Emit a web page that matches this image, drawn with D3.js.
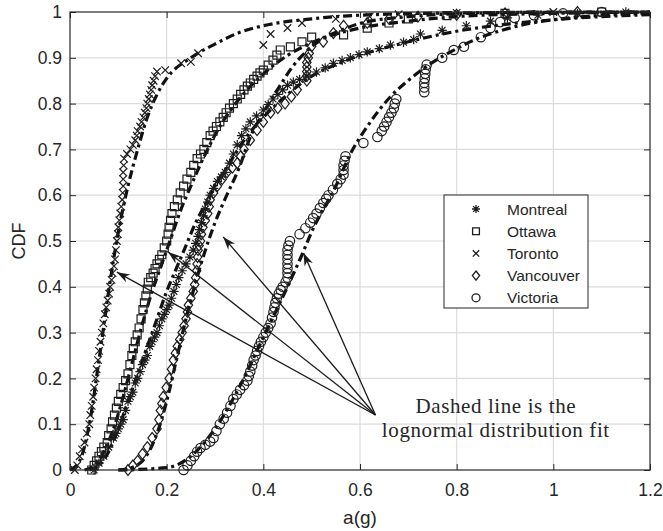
<!DOCTYPE html>
<html>
<head>
<meta charset="utf-8">
<script src="https://cdn.jsdelivr.net/npm/d3@7"></script>
<style>
body { margin: 0; background: #fff; }
text { font-family: "Liberation Sans", Arial, sans-serif; fill: #262626; }
</style>
</head>
<body>
<div class="canvas"></div>
<script>
// tick labels
var xTicks = [0, 0.2, 0.4, 0.6, 0.8, 1, 1.2];
var yTicks = [0, 0.1, 0.2, 0.3, 0.4, 0.5, 0.6, 0.7, 0.8, 0.9, 1];
var cities = ["Montreal", "Ottawa", "Toronto", "Vancouver", "Victoria"];

var montrealPts = [[0.05,0],[0.06,0.015],[0.07,0.03],[0.08,0.05],[0.09,0.07],[0.095,0.08],[0.1,0.09],[0.105,0.1],[0.11,0.11],[0.115,0.13],[0.12,0.15],[0.125,0.16],[0.13,0.17],[0.135,0.19],[0.14,0.2],[0.145,0.215],[0.15,0.23],[0.155,0.24],[0.16,0.25],[0.165,0.27],[0.17,0.28],[0.175,0.29],[0.18,0.3],[0.185,0.315],[0.19,0.33],[0.195,0.34],[0.2,0.35],[0.205,0.36],[0.21,0.375],[0.215,0.39],[0.22,0.405],[0.225,0.42],[0.232,0.435],[0.24,0.45],[0.248,0.465],[0.255,0.48],[0.26,0.495],[0.265,0.51],[0.268,0.525],[0.272,0.54],[0.276,0.555],[0.28,0.57],[0.285,0.585],[0.29,0.6],[0.297,0.615],[0.305,0.63],[0.313,0.64],[0.321,0.65],[0.33,0.67],[0.338,0.69],[0.346,0.71],[0.355,0.73],[0.364,0.745],[0.373,0.76],[0.386,0.773],[0.4,0.786],[0.41,0.798],[0.42,0.81],[0.43,0.82],[0.44,0.83],[0.45,0.84],[0.462,0.847],[0.475,0.853],[0.49,0.86],[0.51,0.869],[0.528,0.878],[0.545,0.888],[0.563,0.894],[0.58,0.9],[0.598,0.907],[0.615,0.913],[0.64,0.92],[0.663,0.928],[0.69,0.934],[0.711,0.94],[0.725,0.952],[0.77,0.96],[0.82,0.97],[0.87,0.98],[0.905,0.987],[0.968,0.993],[1.05,0.997],[1.15,1]];
var ottawaPts = [[0.045,0],[0.05,0.01],[0.055,0.02],[0.06,0.03],[0.065,0.04],[0.07,0.05],[0.077,0.06],[0.08,0.075],[0.085,0.09],[0.088,0.105],[0.092,0.12],[0.096,0.135],[0.1,0.15],[0.105,0.165],[0.11,0.18],[0.115,0.195],[0.12,0.21],[0.124,0.23],[0.128,0.25],[0.131,0.265],[0.135,0.28],[0.139,0.295],[0.143,0.31],[0.147,0.33],[0.151,0.35],[0.154,0.365],[0.157,0.38],[0.16,0.395],[0.162,0.41],[0.167,0.42],[0.172,0.43],[0.176,0.44],[0.18,0.45],[0.185,0.46],[0.19,0.47],[0.195,0.485],[0.2,0.5],[0.203,0.515],[0.205,0.53],[0.208,0.545],[0.211,0.56],[0.216,0.575],[0.222,0.59],[0.228,0.605],[0.235,0.62],[0.242,0.635],[0.25,0.65],[0.256,0.665],[0.263,0.68],[0.27,0.69],[0.277,0.7],[0.283,0.715],[0.29,0.73],[0.296,0.74],[0.303,0.75],[0.31,0.76],[0.317,0.77],[0.323,0.78],[0.33,0.79],[0.338,0.8],[0.346,0.81],[0.353,0.82],[0.36,0.83],[0.367,0.838],[0.373,0.845],[0.38,0.853],[0.387,0.86],[0.393,0.867],[0.4,0.873],[0.41,0.884],[0.42,0.895],[0.428,0.906],[0.435,0.917],[0.456,0.924],[0.48,0.935],[0.5,0.945],[0.566,0.95],[0.615,0.965],[0.66,0.976],[0.7,0.985],[0.78,0.992],[0.9,0.997],[1.1,1]];
var torontoPts = [[0.01,0],[0.015,0.01],[0.02,0.03],[0.025,0.045],[0.03,0.06],[0.035,0.08],[0.04,0.1],[0.042,0.12],[0.045,0.14],[0.048,0.16],[0.05,0.18],[0.053,0.2],[0.055,0.22],[0.058,0.24],[0.06,0.26],[0.063,0.28],[0.066,0.3],[0.069,0.32],[0.072,0.34],[0.075,0.355],[0.078,0.37],[0.081,0.385],[0.083,0.4],[0.086,0.415],[0.088,0.43],[0.091,0.445],[0.093,0.46],[0.095,0.48],[0.097,0.5],[0.099,0.515],[0.1,0.53],[0.102,0.545],[0.104,0.56],[0.106,0.575],[0.108,0.59],[0.109,0.605],[0.11,0.62],[0.11,0.635],[0.11,0.65],[0.111,0.665],[0.112,0.68],[0.118,0.69],[0.125,0.7],[0.13,0.71],[0.135,0.72],[0.138,0.73],[0.14,0.74],[0.145,0.75],[0.148,0.76],[0.152,0.77],[0.155,0.78],[0.158,0.79],[0.16,0.8],[0.163,0.81],[0.165,0.82],[0.168,0.83],[0.17,0.84],[0.173,0.85],[0.176,0.86],[0.18,0.87],[0.197,0.873],[0.23,0.888],[0.25,0.891],[0.265,0.91],[0.4,0.928],[0.415,0.952],[0.45,0.965],[0.48,0.976],[0.55,0.985],[0.62,0.99],[0.68,0.995],[0.8,0.998],[1,1]];
var vancouverPts = [[0.12,0],[0.13,0.01],[0.14,0.02],[0.15,0.035],[0.16,0.05],[0.17,0.07],[0.18,0.09],[0.184,0.11],[0.187,0.13],[0.19,0.145],[0.193,0.16],[0.199,0.18],[0.205,0.2],[0.21,0.22],[0.214,0.24],[0.218,0.255],[0.222,0.27],[0.227,0.285],[0.232,0.3],[0.236,0.315],[0.24,0.33],[0.243,0.345],[0.245,0.36],[0.25,0.375],[0.255,0.39],[0.258,0.405],[0.26,0.42],[0.262,0.435],[0.263,0.45],[0.264,0.465],[0.265,0.48],[0.267,0.49],[0.27,0.5],[0.272,0.515],[0.275,0.53],[0.28,0.545],[0.285,0.56],[0.288,0.575],[0.29,0.59],[0.297,0.605],[0.305,0.62],[0.315,0.635],[0.325,0.65],[0.336,0.66],[0.346,0.67],[0.353,0.685],[0.36,0.7],[0.373,0.72],[0.387,0.742],[0.4,0.76],[0.415,0.78],[0.43,0.79],[0.445,0.8],[0.458,0.815],[0.47,0.83],[0.49,0.85],[0.49,0.86],[0.49,0.87],[0.49,0.88],[0.49,0.89],[0.493,0.9],[0.495,0.91],[0.5,0.925],[0.524,0.935],[0.545,0.954],[0.566,0.97],[0.615,0.976],[0.66,0.985],[0.72,0.99],[0.8,0.994],[0.9,0.997],[1.05,1]];
var victoriaPts = [[0.235,0],[0.243,0.01],[0.25,0.02],[0.257,0.03],[0.263,0.04],[0.27,0.048],[0.28,0.055],[0.29,0.062],[0.297,0.07],[0.303,0.085],[0.31,0.1],[0.318,0.112],[0.325,0.125],[0.332,0.14],[0.338,0.155],[0.345,0.165],[0.352,0.175],[0.36,0.185],[0.367,0.195],[0.37,0.205],[0.373,0.215],[0.377,0.228],[0.38,0.24],[0.384,0.25],[0.387,0.26],[0.391,0.27],[0.395,0.28],[0.4,0.29],[0.405,0.3],[0.41,0.31],[0.415,0.32],[0.418,0.333],[0.421,0.345],[0.423,0.355],[0.425,0.365],[0.428,0.375],[0.432,0.385],[0.436,0.393],[0.44,0.4],[0.446,0.41],[0.45,0.42],[0.45,0.43],[0.45,0.44],[0.45,0.45],[0.45,0.46],[0.45,0.47],[0.45,0.48],[0.452,0.49],[0.455,0.5],[0.475,0.515],[0.487,0.528],[0.497,0.54],[0.503,0.55],[0.51,0.56],[0.517,0.572],[0.524,0.583],[0.53,0.592],[0.535,0.6],[0.544,0.612],[0.553,0.625],[0.56,0.635],[0.566,0.645],[0.566,0.655],[0.566,0.665],[0.568,0.675],[0.57,0.685],[0.607,0.714],[0.636,0.727],[0.645,0.74],[0.65,0.75],[0.655,0.76],[0.66,0.77],[0.665,0.78],[0.67,0.79],[0.672,0.8],[0.675,0.81],[0.733,0.825],[0.733,0.835],[0.733,0.845],[0.734,0.855],[0.735,0.865],[0.736,0.875],[0.738,0.885],[0.77,0.9],[0.794,0.917],[0.815,0.924],[0.85,0.945],[0.87,0.965],[0.89,0.978],[0.92,0.987],[0.96,0.993],[1.02,0.997],[1.1,1]];

// lognormal fit curves (dash-dot)
var montrealFit = [[0.04,0],[0.06,0.01],[0.08,0.04],[0.1,0.09],[0.12,0.15],[0.14,0.21],[0.16,0.27],[0.18,0.33],[0.2,0.39],[0.22,0.44],[0.24,0.49],[0.26,0.54],[0.28,0.58],[0.3,0.62],[0.33,0.67],[0.36,0.72],[0.4,0.77],[0.45,0.82],[0.5,0.86],[0.55,0.885],[0.6,0.905],[0.7,0.935],[0.8,0.958],[0.9,0.973],[1,0.983],[1.1,0.99],[1.2,0.994]];
var ottawaFit = [[0.03,0],[0.05,0.01],[0.07,0.04],[0.09,0.09],[0.11,0.16],[0.13,0.24],[0.15,0.32],[0.17,0.39],[0.19,0.45],[0.21,0.51],[0.23,0.57],[0.25,0.62],[0.28,0.69],[0.31,0.75],[0.35,0.81],[0.4,0.865],[0.45,0.905],[0.5,0.933],[0.6,0.965],[0.7,0.98],[0.8,0.99],[1,0.997],[1.2,1]];
var torontoFit = [[0,0],[0.02,0.02],[0.04,0.1],[0.06,0.24],[0.08,0.39],[0.1,0.52],[0.12,0.62],[0.14,0.7],[0.16,0.77],[0.18,0.82],[0.2,0.855],[0.25,0.9],[0.3,0.93],[0.35,0.955],[0.4,0.97],[0.5,0.985],[0.6,0.993],[0.8,0.998],[1.2,1]];
var vancouverFit = [[0.1,0],[0.12,0.003],[0.15,0.02],[0.18,0.08],[0.2,0.15],[0.22,0.24],[0.24,0.33],[0.26,0.41],[0.28,0.48],[0.3,0.54],[0.32,0.59],[0.35,0.66],[0.373,0.727],[0.4,0.78],[0.435,0.84],[0.46,0.88],[0.49,0.915],[0.52,0.94],[0.56,0.96],[0.6,0.975],[0.7,0.99],[0.8,0.996],[1,1],[1.2,1]];
var victoriaFit = [[0.1,0],[0.2,0.005],[0.25,0.03],[0.3,0.09],[0.35,0.18],[0.4,0.29],[0.45,0.4],[0.48,0.47],[0.5,0.52],[0.55,0.62],[0.58,0.69],[0.615,0.75],[0.663,0.815],[0.705,0.855],[0.75,0.89],[0.8,0.92],[0.85,0.945],[0.9,0.962],[0.95,0.975],[1,0.983],[1.1,0.993],[1.2,0.997]];

// annotation: arrow tips and common tail, in data units
var arrowTips = [[0.097,0.432],[0.203,0.476],[0.317,0.509],[0.483,0.474]];
var arrowTail = [0.632,0.12];
var noteLines = ["Dashed line is the", "lognormal distribution fit"];

var W = 663, H = 531;
var margin = {left: 70, right: 13, top: 12, bottom: 61};

var svg = d3.select(".canvas").append("svg").attr("width", W).attr("height", H);

var x = d3.scaleLinear().domain([0, 1.2]).range([margin.left, W - margin.right]);
var y = d3.scaleLinear().domain([0, 1]).range([H - margin.bottom, margin.top]);

// grid
svg.append("g").selectAll("line").data(xTicks.slice(1, -1)).enter().append("line")
  .attr("x1", function(d) { return x(d); }).attr("x2", function(d) { return x(d); })
  .attr("y1", y(0)).attr("y2", y(1))
  .attr("stroke", "#dcdcdc").attr("stroke-width", 1.2);
svg.append("g").selectAll("line").data(yTicks.slice(1, -1)).enter().append("line")
  .attr("y1", function(d) { return y(d); }).attr("y2", function(d) { return y(d); })
  .attr("x1", x(0)).attr("x2", x(1.2))
  .attr("stroke", "#dcdcdc").attr("stroke-width", 1.2);

// fit lines
var line = d3.line().x(function(d) { return x(d[0]); }).y(function(d) { return y(d[1]); })
  .curve(d3.curveMonotoneX);
var fits = [montrealFit, ottawaFit, torontoFit, vancouverFit, victoriaFit];
svg.append("g").selectAll("path").data(fits).enter().append("path")
  .attr("d", line)
  .attr("fill", "none").attr("stroke", "#111").attr("stroke-width", 3.2)
  .attr("stroke-dasharray", "9,4,3,4");

// marker shapes
function markerPath(type, s) {
  var p = d3.path();
  if (type == "Montreal") {
    p.moveTo(-s, 0); p.lineTo(s, 0); p.moveTo(0, -s); p.lineTo(0, s);
    var k = s * 0.72;
    p.moveTo(-k, -k); p.lineTo(k, k); p.moveTo(-k, k); p.lineTo(k, -k);
  } else if (type == "Ottawa") {
    p.rect(-s * 0.85, -s * 0.85, s * 1.7, s * 1.7);
  } else if (type == "Toronto") {
    var t = s * 0.8;
    p.moveTo(-t, -t); p.lineTo(t, t); p.moveTo(-t, t); p.lineTo(t, -t);
  } else if (type == "Vancouver") {
    p.moveTo(0, -s * 1.15); p.lineTo(s * 0.9, 0); p.lineTo(0, s * 1.15); p.lineTo(-s * 0.9, 0); p.closePath();
  } else {
    p.arc(0, 0, s, 0, 2 * Math.PI);
  }
  return p.toString();
}

var seriesPts = [montrealPts, ottawaPts, torontoPts, vancouverPts, victoriaPts];
seriesPts.forEach(function(pts, i) {
  svg.append("g").selectAll("path").data(pts).enter().append("path")
    .attr("transform", function(d) { return "translate(" + x(d[0]) + "," + y(d[1]) + ")"; })
    .attr("d", markerPath(cities[i], 4.7))
    .attr("fill", "none").attr("stroke", "#1e1e1e").attr("stroke-width", 1.2);
});

// frame and inward ticks on all four sides
svg.append("rect").attr("x", x(0)).attr("y", y(1))
  .attr("width", x(1.2) - x(0)).attr("height", y(0) - y(1))
  .attr("fill", "none").attr("stroke", "#262626").attr("stroke-width", 1.2);

svg.append("g").attr("transform", "translate(0," + y(0) + ")")
  .call(d3.axisBottom(x).tickValues(xTicks).tickSize(-6).tickPadding(14).tickFormat(d3.format("")))
  .call(function(g) { g.select(".domain").remove(); });
svg.append("g").attr("transform", "translate(0," + y(1) + ")")
  .call(d3.axisTop(x).tickValues(xTicks).tickSize(-6).tickFormat(""))
  .call(function(g) { g.select(".domain").remove(); });
svg.append("g").attr("transform", "translate(" + x(0) + ",0)")
  .call(d3.axisLeft(y).tickValues(yTicks).tickSize(-6).tickPadding(8).tickFormat(d3.format("")))
  .call(function(g) { g.select(".domain").remove(); });
svg.append("g").attr("transform", "translate(" + x(1.2) + ",0)")
  .call(d3.axisRight(y).tickValues(yTicks).tickSize(-6).tickFormat(""))
  .call(function(g) { g.select(".domain").remove(); });
svg.selectAll(".tick line").attr("stroke", "#262626");
svg.selectAll(".tick text").attr("font-family", "Liberation Sans, Arial, sans-serif")
  .attr("font-size", 17.5).attr("fill", "#262626");

// axis titles
svg.append("text").attr("x", (x(0) + x(1.2)) / 2).attr("y", 524)
  .attr("text-anchor", "middle").attr("font-size", 19).text("a(g)");
svg.append("text").attr("transform", "translate(25," + ((y(0) + y(1)) / 2) + ") rotate(-90)")
  .attr("text-anchor", "middle").attr("font-size", 18).text("CDF");

// legend
var lg = svg.append("g").attr("transform", "translate(444,195)");
lg.append("rect").attr("width", 144).attr("height", 113)
  .attr("fill", "#fff").attr("stroke", "#262626").attr("stroke-width", 1);
cities.forEach(function(c, i) {
  var yy = 14 + i * 22.2;
  lg.append("path").attr("transform", "translate(32," + yy + ")")
    .attr("d", markerPath(c, 4))
    .attr("fill", "none").attr("stroke", "#1e1e1e").attr("stroke-width", 1.3);
  lg.append("text").attr("x", 63).attr("y", yy + 5.5).attr("font-size", 15.5).text(c);
});

// arrows
var ag = svg.append("g");
arrowTips.forEach(function(t) {
  var x1 = x(arrowTail[0]), y1 = y(arrowTail[1]), x2 = x(t[0]), y2 = y(t[1]);
  var ang = Math.atan2(y2 - y1, x2 - x1);
  ag.append("line").attr("x1", x1).attr("y1", y1).attr("x2", x2).attr("y2", y2)
    .attr("stroke", "#1a1a1a").attr("stroke-width", 1.3);
  var L = 13, Wd = 4.5, N = 9;
  var c = Math.cos(ang), s = Math.sin(ang);
  var pts = [[0, 0], [-L, -Wd], [-N, 0], [-L, Wd]].map(function(p) {
    return [x2 + p[0] * c - p[1] * s, y2 + p[0] * s + p[1] * c];
  });
  ag.append("path").attr("d", "M" + pts.join("L") + "Z").attr("fill", "#1a1a1a");
});

// note text
svg.append("g").selectAll("text").data(noteLines).enter().append("text")
  .attr("x", x(0.881)).attr("y", function(d, i) { return y(0.14) + 7 + i * 24; })
  .attr("text-anchor", "middle")
  .style("font-family", "'Liberation Serif', 'DejaVu Serif', serif")
  .style("letter-spacing", "0.6px")
  .attr("font-size", 21).text(function(d) { return d; });
</script>
</body>
</html>
